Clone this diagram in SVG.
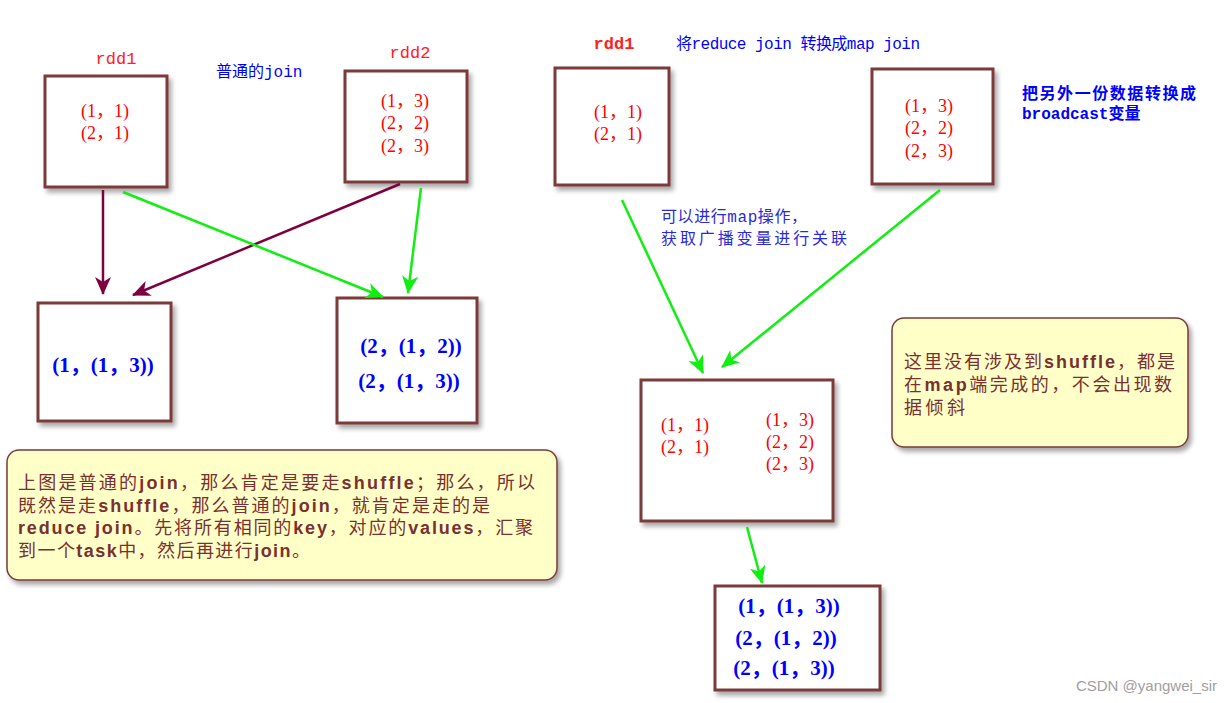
<svg xmlns="http://www.w3.org/2000/svg" width="1232" height="703" viewBox="0 0 1232 703">
<defs>
<filter id="sh" x="-20%" y="-20%" width="150%" height="150%">
<feGaussianBlur in="SourceAlpha" stdDeviation="2.5"/>
<feOffset dx="3" dy="4" result="b"/>
<feComponentTransfer><feFuncA type="linear" slope="0.35"/></feComponentTransfer>
<feMerge><feMergeNode/><feMergeNode in="SourceGraphic"/></feMerge>
</filter>
<marker id="ar" markerUnits="userSpaceOnUse" markerWidth="18" markerHeight="16" viewBox="0 0 18 16" refX="17" refY="8" orient="auto">
<path d="M0,0 L18,8 L0,16 L5,8 z" fill="#7f0040"/>
</marker>
<marker id="ag" markerUnits="userSpaceOnUse" markerWidth="18" markerHeight="16" viewBox="0 0 18 16" refX="17" refY="8" orient="auto">
<path d="M0,0 L18,8 L0,16 L5,8 z" fill="#11ee11"/>
</marker>
</defs>
<style>
.box{fill:#fff;stroke:#7b3b3b;stroke-width:3;filter:url(#sh)}
.note{fill:#ffffc8;stroke:#7b3b3b;stroke-width:1.5;filter:url(#sh)}
.tup{font-family:"Liberation Serif","Noto Sans CJK SC",serif;font-size:18px;fill:#ff0000;text-anchor:middle}
.big{font-family:"Liberation Serif","Noto Sans CJK SC",serif;font-size:21px;fill:#0000ff;text-anchor:middle;font-weight:bold}
.lbl{font-family:"Liberation Mono","Noto Sans CJK SC",monospace;font-size:16px;fill:#0000ff}
.rdd{font-family:"Liberation Mono","Noto Sans CJK SC",monospace;font-size:17px;fill:#ff2020;text-anchor:middle}
.nt{font-family:"Liberation Sans","Noto Sans CJK SC",sans-serif;font-size:18px;fill:#7a3030}
.nt tspan.b{font-weight:bold}
.ln{fill:none;stroke-width:2.5}
.r{stroke:#7f0040;marker-end:url(#ar)}
.g{stroke:#11ee11;marker-end:url(#ag)}
</style>

<g id="labels">
<text class="rdd" x="116" y="64">rdd1</text>
<text class="rdd" x="410" y="58">rdd2</text>
<text class="lbl" x="216" y="77">普通的join</text>
<text class="rdd" x="614" y="49" font-weight="bold">rdd1</text>
<text class="lbl" x="676" y="49" textLength="244" lengthAdjust="spacing">将reduce join 转换成map join</text>
<text class="lbl" x="1022" y="99" font-weight="bold" textLength="174" lengthAdjust="spacing">把另外一份数据转换成</text>
<text class="lbl" x="1022" y="119" font-weight="bold">broadcast变量</text>
<text class="lbl" x="661" y="222" fill="#2a2ad8" style="fill:#2a2ad8" textLength="146" lengthAdjust="spacing">可以进行map操作，</text>
<text class="lbl" x="661" y="244" style="fill:#2a2ad8" textLength="186" lengthAdjust="spacing">获取广播变量进行关联</text>
<text x="1217" y="691" text-anchor="end" font-family="'Liberation Sans','Noto Sans',sans-serif" font-size="15" fill="#a0a0a0">CSDN @yangwei_sir</text>
</g>

<g id="left-rdd1">
<rect class="box" x="45" y="76" width="122" height="111"/>
<text class="tup" x="105" y="117">(1，1)</text>
<text class="tup" x="105" y="139">(2，1)</text>
</g>
<g id="left-rdd2">
<rect class="box" x="345" y="71" width="122" height="111"/>
<text class="tup" x="405" y="107">(1，3)</text>
<text class="tup" x="405" y="129">(2，2)</text>
<text class="tup" x="405" y="152">(2，3)</text>
</g>
<g id="left-res1">
<rect class="box" x="38" y="303" width="133" height="118"/>
<text class="big" x="103" y="372">(1，(1，3))</text>
</g>
<g id="left-res2">
<rect class="box" x="337" y="298" width="140" height="125"/>
<text class="big" x="411" y="353">(2，(1，2))</text>
<text class="big" x="409" y="388">(2，(1，3))</text>
</g>
<g id="note-left">
<rect class="note" x="7" y="450" width="550" height="130" rx="12"/>
<text class="nt" x="18" y="489" textLength="517" lengthAdjust="spacing">上图是普通的<tspan class="b">join</tspan>，那么肯定是要走<tspan class="b">shuffle</tspan>；那么，所以</text>
<text class="nt" x="18" y="512" textLength="472" lengthAdjust="spacing">既然是走<tspan class="b">shuffle</tspan>，那么普通的<tspan class="b">join</tspan>，就肯定是走的是</text>
<text class="nt" x="18" y="534" textLength="515" lengthAdjust="spacing"><tspan class="b">reduce join</tspan>。先将所有相同的<tspan class="b">key</tspan>，对应的<tspan class="b">values</tspan>，汇聚</text>
<text class="nt" x="18" y="557" textLength="292" lengthAdjust="spacing">到一个<tspan class="b">task</tspan>中，然后再进行<tspan class="b">join</tspan>。</text>
</g>

<g id="right-rdd1">
<rect class="box" x="555" y="68" width="114" height="117"/>
<text class="tup" x="618" y="118">(1，1)</text>
<text class="tup" x="618" y="140">(2，1)</text>
</g>
<g id="right-rdd2">
<rect class="box" x="872" y="69" width="121" height="115"/>
<text class="tup" x="929" y="112">(1，3)</text>
<text class="tup" x="929" y="134">(2，2)</text>
<text class="tup" x="929" y="157">(2，3)</text>
</g>
<g id="map-join">
<rect class="box" x="641" y="380" width="192" height="141"/>
<text class="tup" x="685" y="431">(1，1)</text>
<text class="tup" x="685" y="453">(2，1)</text>
<text class="tup" x="790" y="426">(1，3)</text>
<text class="tup" x="790" y="448">(2，2)</text>
<text class="tup" x="790" y="470">(2，3)</text>
</g>
<g id="map-result">
<rect class="box" x="715" y="586" width="165" height="104"/>
<text class="big" x="789" y="613">(1，(1，3))</text>
<text class="big" x="786" y="645">(2，(1，2))</text>
<text class="big" x="784" y="675">(2，(1，3))</text>
</g>
<g id="note-right">
<rect class="note" x="892" y="318" width="296" height="129" rx="12"/>
<text class="nt" x="904" y="368" textLength="271" lengthAdjust="spacing">这里没有涉及到<tspan class="b">shuffle</tspan>，都是</text>
<text class="nt" x="904" y="391" textLength="268" lengthAdjust="spacing">在<tspan class="b">map</tspan>端完成的，不会出现数</text>
<text class="nt" x="904" y="414" textLength="61" lengthAdjust="spacing">据倾斜</text>
</g>

<g id="connectors">
<line class="ln r" x1="103" y1="190" x2="103" y2="294"/>
<line class="ln r" x1="400" y1="184" x2="133" y2="295"/>
<line class="ln g" x1="123" y1="192" x2="383" y2="297"/>
<line class="ln g" x1="421" y1="188" x2="408" y2="293"/>
<line class="ln g" x1="622" y1="200" x2="703" y2="373"/>
<line class="ln g" x1="940" y1="190" x2="722" y2="367"/>
<line class="ln g" x1="747" y1="527" x2="762" y2="583"/>
</g>
</svg>
